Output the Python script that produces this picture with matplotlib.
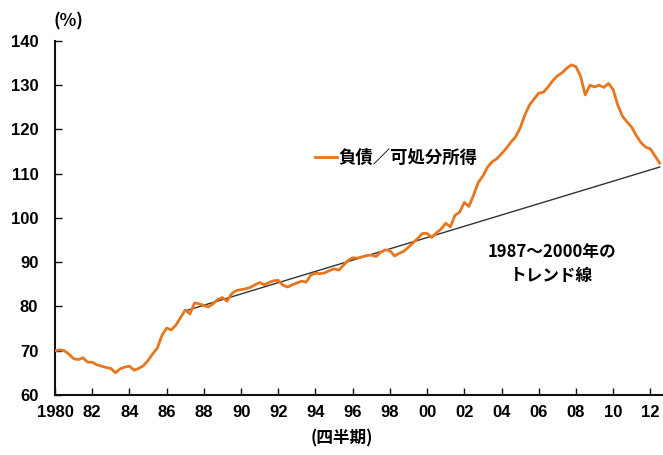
import numpy as np
import matplotlib
matplotlib.use("Agg")
import matplotlib.pyplot as plt
from matplotlib import font_manager

# ---- data -------------------------------------------------------------
start_year = 1980  # first quarter 1980Q1, quarterly data
debt_to_income = [
    70.0, 70.2, 70.0, 69.2,   # 1980
    68.2, 68.0, 68.4, 67.4,   # 1981
    67.4, 66.8, 66.5, 66.2,   # 1982
    66.0, 65.0, 65.9, 66.3,   # 1983
    66.5, 65.6, 66.0, 66.6,   # 1984
    67.8, 69.3, 70.6, 73.5,   # 1985
    75.1, 74.7, 75.8, 77.5,   # 1986
    79.2, 78.3, 80.8, 80.6,   # 1987
    80.2, 79.9, 80.6, 81.6,   # 1988
    82.0, 81.2, 82.9, 83.6,   # 1989
    83.8, 84.0, 84.3, 84.9,   # 1990
    85.4, 84.9, 85.4, 85.8,   # 1991
    85.9, 84.8, 84.4, 84.9,   # 1992
    85.3, 85.7, 85.5, 87.1,   # 1993
    87.5, 87.4, 87.6, 88.1,   # 1994
    88.5, 88.2, 89.3, 90.4,   # 1995
    91.0, 90.9, 91.2, 91.5,   # 1996
    91.6, 91.3, 92.2, 92.8,   # 1997
    92.6, 91.4, 92.0, 92.5,   # 1998
    93.4, 94.4, 95.4, 96.5,   # 1999
    96.5, 95.6, 96.6, 97.5,   # 2000
    98.8, 98.0, 100.6, 101.3, # 2001
    103.5, 102.6, 105.2, 108.0,  # 2002
    109.5, 111.5, 112.7, 113.4,  # 2003
    114.5, 115.7, 117.1, 118.3,  # 2004
    120.3, 123.2, 125.5, 126.9,  # 2005
    128.2, 128.4, 129.6, 131.0,  # 2006
    132.1, 132.8, 133.8, 134.6,  # 2007
    134.2, 132.0, 127.8, 130.0,  # 2008
    129.6, 130.0, 129.5, 130.4,  # 2009
    129.0, 125.5, 123.0, 121.7,  # 2010
    120.5, 118.6, 117.0, 116.0,  # 2011
    115.6, 114.0, 112.4,         # 2012
]
trend_years = [1987.0, 2012.5]
trend_values = [79.0, 111.5]

tick_years = list(range(1980, 2013, 2))
tick_labels = ["1980", "82", "84", "86", "88", "90", "92", "94", "96", "98",
               "00", "02", "04", "06", "08", "10", "12"]
y_ticks = [60, 70, 80, 90, 100, 110, 120, 130, 140]

series_label = "負債／可処分所得"
trend_label = "1987～2000年の\nトレンド線"

# ---- fonts ------------------------------------------------------------
available = {f.name for f in font_manager.fontManager.ttflist}
num_font = "Liberation Sans Narrow" if "Liberation Sans Narrow" in available else "Liberation Sans"
cjk = ["Noto Sans CJK JP", "DejaVu Sans"]

# ---- figure -----------------------------------------------------------
fig = plt.figure(figsize=(6.63, 4.55), dpi=100)
ax = fig.add_axes([0.083, 0.132, 0.917, 0.778])

years = start_year + np.arange(len(debt_to_income)) / 4.0
ax.plot(years, debt_to_income, color="#E8761F", lw=2.0, label=series_label,
        solid_joinstyle="round", zorder=3)
ax.plot(trend_years, trend_values, color="#333333", lw=1.0, zorder=2)

ax.set_xlim(1980, 2012.68)
ax.set_ylim(60, 140)
ax.set_xticks(tick_years)
ax.set_xticklabels(tick_labels)
ax.set_yticks(y_ticks)

for s in ["top", "right"]:
    ax.spines[s].set_visible(False)
for s in ["left", "bottom"]:
    ax.spines[s].set_linewidth(1.5)
    ax.spines[s].set_color("#111111")

ax.tick_params(axis="both", direction="in", length=5, width=1.0, color="#111111")
ax.tick_params(axis="y", pad=12)
ax.tick_params(axis="x", pad=7)
for lab in ax.get_xticklabels() + ax.get_yticklabels():
    lab.set_fontfamily(num_font)
    lab.set_fontweight("bold")
    lab.set_fontsize(12)

leg = ax.legend(loc="center left", bbox_to_anchor=(0.428, 0.669), frameon=False,
                borderpad=0, borderaxespad=0, handlelength=1.25, handletextpad=0.1,
                prop={"family": cjk, "weight": "bold", "size": 12.5})

ax.text(0.817, 0.37, trend_label, transform=ax.transAxes, ha="center", va="center",
        multialignment="center", family=cjk, fontweight="bold", fontsize=12,
        linespacing=1.45)

fig.text(0.103, 0.952, "(%)", ha="center", va="center", family=cjk,
         fontweight="bold", fontsize=12.5)
fig.text(0.516, 0.037, "(四半期)", ha="center", va="center", family=cjk,
         fontweight="bold", fontsize=12)

fig.savefig("out.png", dpi=100)
